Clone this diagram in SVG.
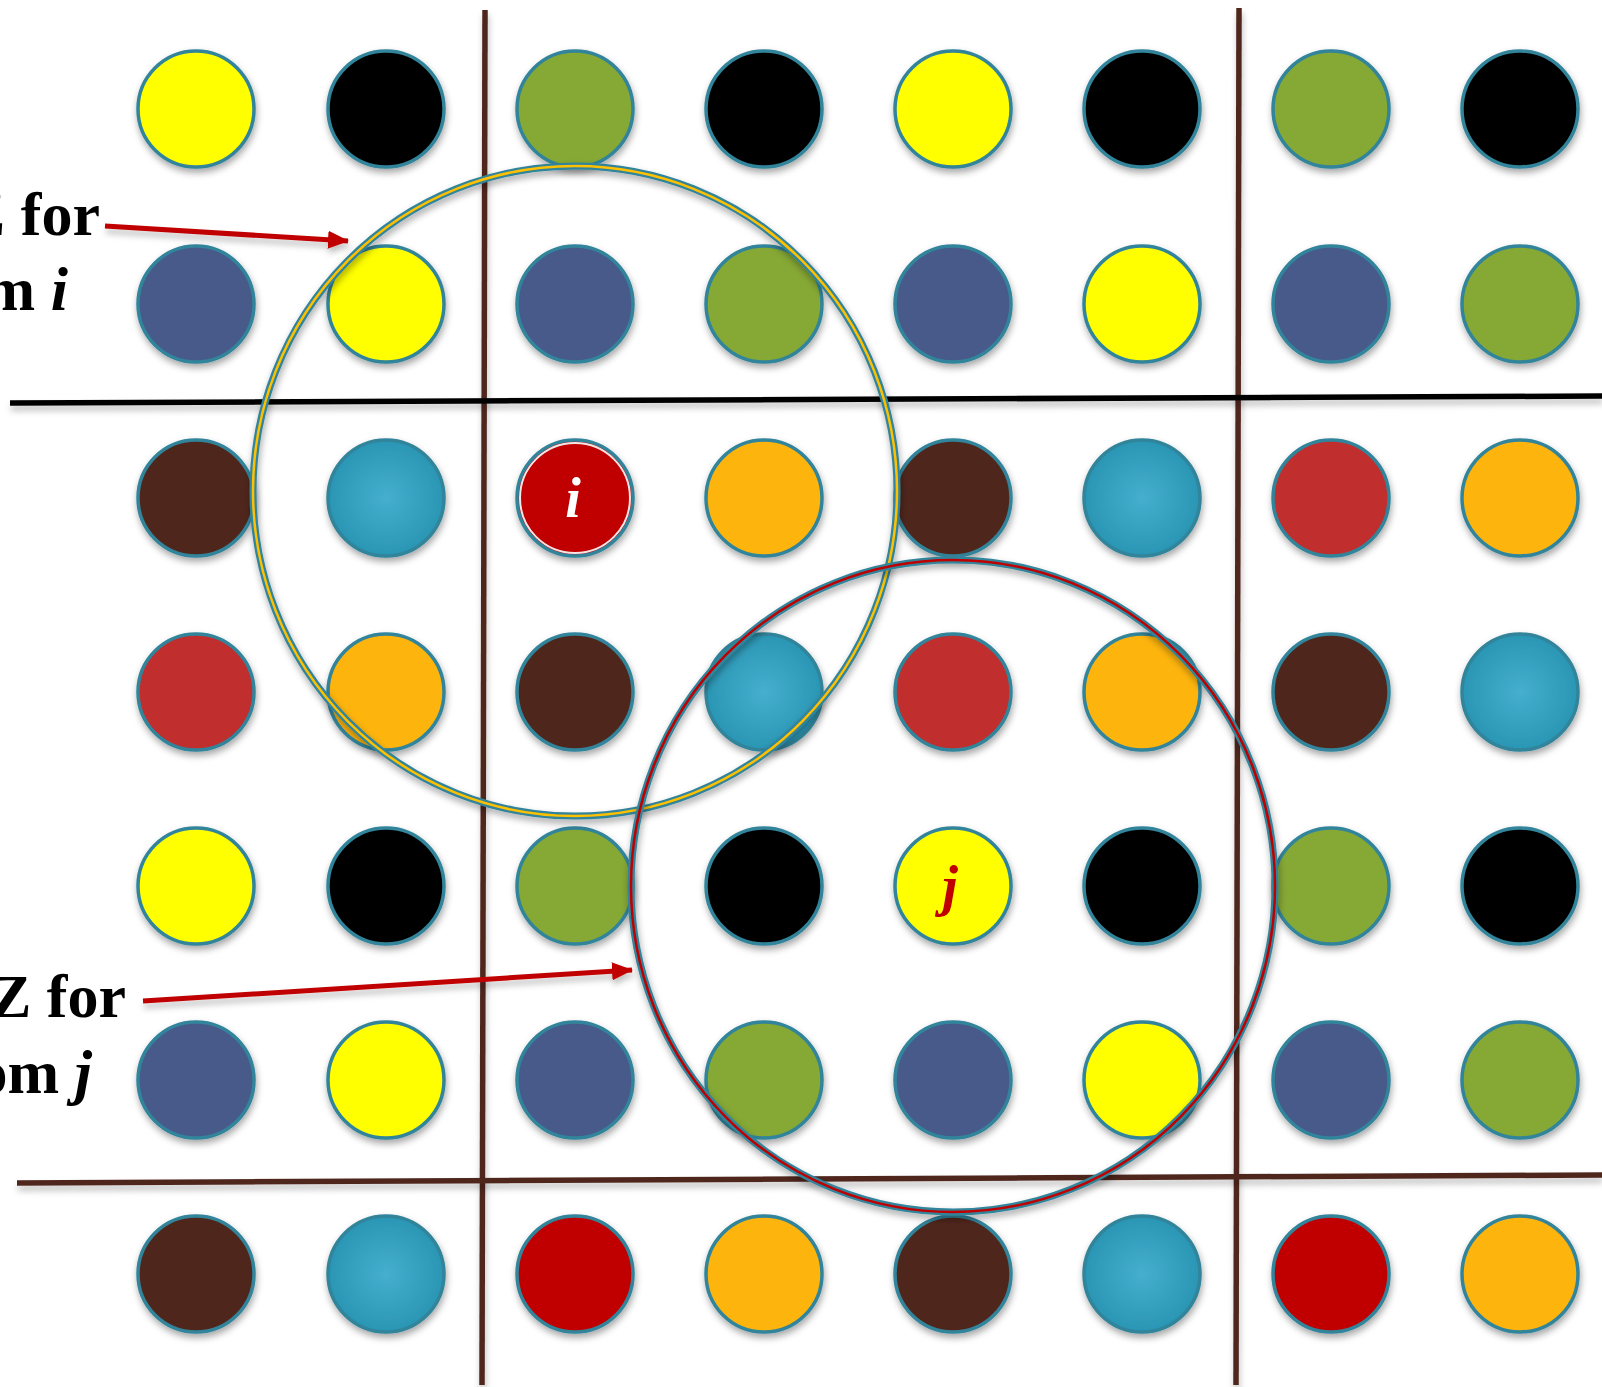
<svg xmlns="http://www.w3.org/2000/svg" width="1602" height="1387" viewBox="0 0 1602 1387">
<style>
.dot{stroke:#31849B;stroke-width:3.5;filter:url(#sh)}
.Y{fill:#FFFF00}.K{fill:#000000}.G{fill:#86A834}.B{fill:#465A8A}.N{fill:#4F271E}
.C{fill:url(#cy)}.R{fill:#C12D2E}.D{fill:#C00000}.O{fill:#FDB40D}
.gl{stroke-width:5.5;fill:none;filter:url(#lsh)}
.ringo{fill:none;stroke:#31849B;stroke-width:7}
.lbl{font-family:"Liberation Serif","Times New Roman",serif;font-weight:bold;font-size:62px;fill:#000}
.arr{stroke:#C00000;stroke-width:5;fill:none;marker-end:url(#ah);filter:url(#lsh)}
</style>
<defs>
<filter id="sh" x="-30%" y="-30%" width="160%" height="170%">
<feDropShadow dx="1" dy="4" stdDeviation="3.5" flood-color="#000" flood-opacity="0.35"/>
</filter>
<filter id="lsh" filterUnits="userSpaceOnUse" x="0" y="0" width="1602" height="1387">
<feDropShadow dx="1" dy="5" stdDeviation="3" flood-color="#000" flood-opacity="0.25"/>
</filter>
<radialGradient id="cy" cx="50%" cy="50%" r="50%">
<stop offset="0" stop-color="#46AECE"/>
<stop offset="1" stop-color="#2A96B4"/>
</radialGradient>
<marker id="ah" markerUnits="userSpaceOnUse" markerWidth="22" markerHeight="20" refX="20" refY="10" orient="auto">
<path d="M0,1 L21,10 L0,19 Z" fill="#C00000"/>
</marker>
</defs>
<rect width="1602" height="1387" fill="#FFFFFF"/>
<g id="grid-lines">
<line class="gl" x1="485" y1="10" x2="482" y2="1385" stroke="#4F271E"/>
<line class="gl" x1="1239" y1="8" x2="1236" y2="1385" stroke="#4F271E"/>
<line class="gl" x1="10" y1="403" x2="1602" y2="396" stroke="#000000" stroke-width="5"/>
<line class="gl" x1="17" y1="1183" x2="1602" y2="1175" stroke="#4F271E"/>
</g>
<g id="row0">
<g id="n0-0"><circle class="dot Y" cx="196" cy="109" r="58"/></g>
<g id="n0-1"><circle class="dot K" cx="386" cy="109" r="58"/></g>
<g id="n0-2"><circle class="dot G" cx="575" cy="109" r="58"/></g>
<g id="n0-3"><circle class="dot K" cx="764" cy="109" r="58"/></g>
<g id="n0-4"><circle class="dot Y" cx="953" cy="109" r="58"/></g>
<g id="n0-5"><circle class="dot K" cx="1142" cy="109" r="58"/></g>
<g id="n0-6"><circle class="dot G" cx="1331" cy="109" r="58"/></g>
<g id="n0-7"><circle class="dot K" cx="1520" cy="109" r="58"/></g>
</g>
<g id="row1">
<g id="n1-0"><circle class="dot B" cx="196" cy="304" r="58"/></g>
<g id="n1-1"><circle class="dot Y" cx="386" cy="304" r="58"/></g>
<g id="n1-2"><circle class="dot B" cx="575" cy="304" r="58"/></g>
<g id="n1-3"><circle class="dot G" cx="764" cy="304" r="58"/></g>
<g id="n1-4"><circle class="dot B" cx="953" cy="304" r="58"/></g>
<g id="n1-5"><circle class="dot Y" cx="1142" cy="304" r="58"/></g>
<g id="n1-6"><circle class="dot B" cx="1331" cy="304" r="58"/></g>
<g id="n1-7"><circle class="dot G" cx="1520" cy="304" r="58"/></g>
</g>
<g id="row2">
<g id="n2-0"><circle class="dot N" cx="196" cy="498" r="58"/></g>
<g id="n2-1"><circle class="dot C" cx="386" cy="498" r="58"/></g>
<g id="atom-i"><circle class="dot D" cx="575" cy="498" r="58"/><circle cx="575" cy="498" r="55" fill="none" stroke="#F2E6E6" stroke-width="2"/>
<text x="573" y="517" text-anchor="middle" font-family="Liberation Serif, Times New Roman, serif" font-weight="bold" font-style="italic" font-size="56" fill="#FFFFFF">i</text></g>
<g id="n2-3"><circle class="dot O" cx="764" cy="498" r="58"/></g>
<g id="n2-4"><circle class="dot N" cx="953" cy="498" r="58"/></g>
<g id="n2-5"><circle class="dot C" cx="1142" cy="498" r="58"/></g>
<g id="n2-6"><circle class="dot R" cx="1331" cy="498" r="58"/></g>
<g id="n2-7"><circle class="dot O" cx="1520" cy="498" r="58"/></g>
</g>
<g id="row3">
<g id="n3-0"><circle class="dot R" cx="196" cy="692" r="58"/></g>
<g id="n3-1"><circle class="dot O" cx="386" cy="692" r="58"/></g>
<g id="n3-2"><circle class="dot N" cx="575" cy="692" r="58"/></g>
<g id="n3-3"><circle class="dot C" cx="764" cy="692" r="58"/></g>
<g id="n3-4"><circle class="dot R" cx="953" cy="692" r="58"/></g>
<g id="n3-5"><circle class="dot O" cx="1142" cy="692" r="58"/></g>
<g id="n3-6"><circle class="dot N" cx="1331" cy="692" r="58"/></g>
<g id="n3-7"><circle class="dot C" cx="1520" cy="692" r="58"/></g>
</g>
<g id="row4">
<g id="n4-0"><circle class="dot Y" cx="196" cy="886" r="58"/></g>
<g id="n4-1"><circle class="dot K" cx="386" cy="886" r="58"/></g>
<g id="n4-2"><circle class="dot G" cx="575" cy="886" r="58"/></g>
<g id="n4-3"><circle class="dot K" cx="764" cy="886" r="58"/></g>
<g id="atom-j"><circle class="dot Y" cx="953" cy="886" r="58"/>
<text x="950" y="905" text-anchor="middle" font-family="Liberation Serif, Times New Roman, serif" font-weight="bold" font-style="italic" font-size="56" fill="#C00000">j</text></g>
<g id="n4-5"><circle class="dot K" cx="1142" cy="886" r="58"/></g>
<g id="n4-6"><circle class="dot G" cx="1331" cy="886" r="58"/></g>
<g id="n4-7"><circle class="dot K" cx="1520" cy="886" r="58"/></g>
</g>
<g id="row5">
<g id="n5-0"><circle class="dot B" cx="196" cy="1080" r="58"/></g>
<g id="n5-1"><circle class="dot Y" cx="386" cy="1080" r="58"/></g>
<g id="n5-2"><circle class="dot B" cx="575" cy="1080" r="58"/></g>
<g id="n5-3"><circle class="dot G" cx="764" cy="1080" r="58"/></g>
<g id="n5-4"><circle class="dot B" cx="953" cy="1080" r="58"/></g>
<g id="n5-5"><circle class="dot Y" cx="1142" cy="1080" r="58"/></g>
<g id="n5-6"><circle class="dot B" cx="1331" cy="1080" r="58"/></g>
<g id="n5-7"><circle class="dot G" cx="1520" cy="1080" r="58"/></g>
</g>
<g id="row6">
<g id="n6-0"><circle class="dot N" cx="196" cy="1274" r="58"/></g>
<g id="n6-1"><circle class="dot C" cx="386" cy="1274" r="58"/></g>
<g id="n6-2"><circle class="dot D" cx="575" cy="1274" r="58"/></g>
<g id="n6-3"><circle class="dot O" cx="764" cy="1274" r="58"/></g>
<g id="n6-4"><circle class="dot N" cx="953" cy="1274" r="58"/></g>
<g id="n6-5"><circle class="dot C" cx="1142" cy="1274" r="58"/></g>
<g id="n6-6"><circle class="dot D" cx="1331" cy="1274" r="58"/></g>
<g id="n6-7"><circle class="dot O" cx="1520" cy="1274" r="58"/></g>
</g>
<g id="zone-i">
<ellipse class="ringo" cx="575" cy="491" rx="322" ry="325" filter="url(#sh)"/>
<ellipse cx="575" cy="491" rx="322" ry="325" fill="none" stroke="#FFC000" stroke-width="2.5"/>
</g>
<g id="zone-j">
<ellipse class="ringo" cx="953" cy="886" rx="322" ry="326" filter="url(#sh)"/>
<ellipse cx="953" cy="886" rx="322" ry="326" fill="none" stroke="#C00000" stroke-width="2.5"/>
</g>
<g id="label-i">
<text class="lbl" x="100" y="235" text-anchor="end">Z for</text>
<text class="lbl" x="68" y="310" text-anchor="end">m <tspan font-style="italic">i</tspan></text>
</g>
<g id="label-j">
<text class="lbl" x="126" y="1017" text-anchor="end">Z for</text>
<text class="lbl" x="92" y="1093" text-anchor="end">om <tspan font-style="italic">j</tspan></text>
</g>
<g id="connectors">
<line class="arr" x1="105" y1="226" x2="348" y2="241"/>
<line class="arr" x1="143" y1="1001" x2="632" y2="970"/>
</g>
</svg>
